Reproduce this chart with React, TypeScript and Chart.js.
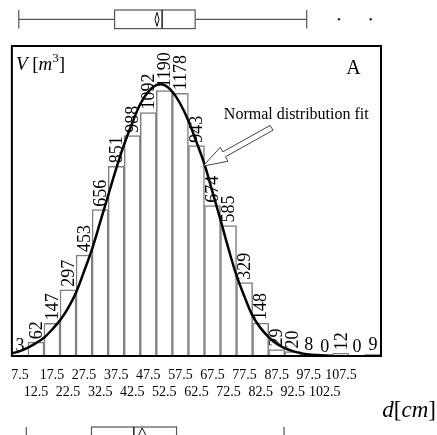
import { useEffect, useRef } from 'react';
import { Chart, registerables } from 'chart.js';

Chart.register(...registerables);

// Histogram: bin centres (cm) and stem volumes (m³)
const BIN_CENTERS = [7.5, 12.5, 17.5, 22.5, 27.5, 32.5, 37.5, 42.5, 47.5, 52.5, 57.5, 62.5, 67.5, 72.5, 77.5, 82.5, 87.5, 92.5, 97.5, 102.5, 107.5, 112.5, 117.5];
const VOLUMES = [3, 62, 147, 297, 453, 656, 851, 988, 1092, 1190, 1178, 943, 674, 585, 329, 148, 29, 20, 8, 0, 12, 0, 9];

// Axis tick labels
const TICK_VALUES = [7.5, 12.5, 17.5, 22.5, 27.5, 32.5, 37.5, 42.5, 47.5, 52.5, 57.5, 62.5, 67.5, 72.5, 77.5, 82.5, 87.5, 92.5, 97.5, 102.5, 107.5];

// Normal distribution fit curve
const FIT_X = [5, 7.5, 10, 12.5, 15, 17.5, 20, 22.5, 25, 27.5, 30, 32.5, 35, 37.5, 40, 42.5, 45, 47.5, 50, 52.5, 55, 57.5, 60, 62.5, 65, 67.5, 70, 72.5, 75, 77.5, 80, 82.5, 85, 87.5, 90, 92.5, 95, 97.5, 100, 102.5, 105];
const FIT_Y = [12, 22, 38, 58, 82, 118, 160, 215, 285, 380, 480, 600, 720, 840, 950, 1045, 1130, 1185, 1215, 1215, 1185, 1130, 1055, 960, 860, 735, 610, 480, 360, 265, 180, 125, 85, 55, 35, 22, 13, 7, 4, 2, 1];

// Box plots: [low whisker, Q1, median, Q3, high whisker]
const BOX_TOP = [7.15, 37.0, 51.8, 62.1, 96.85];
const BOX_TOP_MEAN = 50.2;
const BOX_TOP_OUTLIERS = [106.9, 116.8];
const BOX_BOTTOM = [9.5, 29.8, 43.0, 56.3, 89.8];
const BOX_BOTTOM_MEAN = 45.6;

// Annotation anchors (data coordinates)
const ARROW_TIP = [64.6, 852];
const ARROW_TAIL = [85.9, 1023];
const FIT_LABEL = 'Normal distribution fit';
const FIT_LABEL_POS = [93.6, 1081];
const PANEL_LABEL = 'A';
const PANEL_LABEL_POS = [111.4, 1288];

const SERIF = '"Liberation Serif", "Times New Roman", serif';

function drawBox(ctx: CanvasRenderingContext2D, xs: any, vals: number[], yc: number, hh: number, mean: number, mhw: number, mhh: number, outliers: number[]) {
  const [lo, q1, med, q3, hi] = vals.map((v) => xs.getPixelForValue(v));
  ctx.save();
  ctx.strokeStyle = '#555';
  ctx.lineWidth = 1.2;
  ctx.beginPath();
  ctx.moveTo(lo, yc); ctx.lineTo(q1, yc);
  ctx.moveTo(q3, yc); ctx.lineTo(hi, yc);
  ctx.moveTo(lo, yc - hh); ctx.lineTo(lo, yc + hh);
  ctx.moveTo(hi, yc - hh); ctx.lineTo(hi, yc + hh);
  ctx.stroke();
  ctx.strokeRect(q1, yc - hh, q3 - q1, 2 * hh);
  ctx.strokeStyle = '#111';
  ctx.lineWidth = 1.4;
  ctx.beginPath();
  ctx.moveTo(med, yc - hh); ctx.lineTo(med, yc + hh);
  ctx.stroke();
  const mx = xs.getPixelForValue(mean);
  ctx.lineWidth = 1;
  ctx.beginPath();
  ctx.moveTo(mx, yc - mhh); ctx.lineTo(mx + mhw, yc); ctx.lineTo(mx, yc + mhh); ctx.lineTo(mx - mhw, yc); ctx.closePath();
  ctx.stroke();
  ctx.fillStyle = '#222';
  outliers.forEach((o) => {
    ctx.beginPath();
    ctx.arc(xs.getPixelForValue(o), yc, 1.2, 0, Math.PI * 2);
    ctx.fill();
  });
  ctx.restore();
}

function drawArrow(ctx: CanvasRenderingContext2D, tx: number, ty: number, sx: number, sy: number) {
  const dx = tx - sx, dy = ty - sy;
  const len = Math.hypot(dx, dy);
  const ux = dx / len, uy = dy / len;
  const nx = -uy, ny = ux;
  const headLen = 24, headHW = 8, shaftHW = 2.8;
  const bx = tx - ux * headLen, by = ty - uy * headLen;
  ctx.save();
  ctx.beginPath();
  ctx.moveTo(sx + nx * shaftHW, sy + ny * shaftHW);
  ctx.lineTo(bx + nx * shaftHW, by + ny * shaftHW);
  ctx.lineTo(bx + nx * headHW, by + ny * headHW);
  ctx.lineTo(tx, ty);
  ctx.lineTo(bx - nx * headHW, by - ny * headHW);
  ctx.lineTo(bx - nx * shaftHW, by - ny * shaftHW);
  ctx.lineTo(sx - nx * shaftHW, sy - ny * shaftHW);
  ctx.closePath();
  ctx.fillStyle = '#fff';
  ctx.fill();
  ctx.strokeStyle = '#444';
  ctx.lineWidth = 1;
  ctx.stroke();
  ctx.restore();
}

function drawParts(ctx: CanvasRenderingContext2D, parts: { t: string; f: string; dy?: number }[], x: number, y: number, align: 'left' | 'right') {
  let total = 0;
  parts.forEach((p) => { ctx.font = p.f; total += ctx.measureText(p.t).width; });
  let cx = align === 'left' ? x : x - total;
  ctx.textAlign = 'left';
  ctx.textBaseline = 'alphabetic';
  parts.forEach((p) => {
    ctx.font = p.f;
    ctx.fillText(p.t, cx, y + (p.dy || 0));
    cx += ctx.measureText(p.t).width;
  });
}

const overlay = {
  id: 'overlay',
  afterDatasetsDraw(chart: any) {
    const { ctx, chartArea: ca, scales } = chart;
    const xs = scales.x, ys = scales.y;
    const meta = chart.getDatasetMeta(0);
    ctx.save();
    ctx.fillStyle = '#000';
    ctx.font = `18px ${SERIF}`;
    meta.data.forEach((bar: any, i: number) => {
      const label = String(VOLUMES[i]);
      if (label.length > 1) {
        ctx.save();
        ctx.translate(bar.x + 1, bar.y - 3);
        ctx.rotate(-Math.PI / 2);
        ctx.textAlign = 'left';
        ctx.textBaseline = 'middle';
        ctx.fillText(label, 0, 0);
        ctx.restore();
      } else {
        ctx.textAlign = 'center';
        ctx.textBaseline = 'alphabetic';
        ctx.fillText(label, bar.x, bar.y - 4);
      }
    });
    ctx.restore();

    // arrow + annotation
    drawArrow(ctx, xs.getPixelForValue(ARROW_TIP[0]), ys.getPixelForValue(ARROW_TIP[1]), xs.getPixelForValue(ARROW_TAIL[0]), ys.getPixelForValue(ARROW_TAIL[1]));
    ctx.save();
    ctx.fillStyle = '#000';
    ctx.font = `16px ${SERIF}`;
    ctx.textAlign = 'center';
    ctx.textBaseline = 'middle';
    ctx.fillText(FIT_LABEL, xs.getPixelForValue(FIT_LABEL_POS[0]), ys.getPixelForValue(FIT_LABEL_POS[1]));
    ctx.font = `20px ${SERIF}`;
    ctx.fillText(PANEL_LABEL, xs.getPixelForValue(PANEL_LABEL_POS[0]), ys.getPixelForValue(PANEL_LABEL_POS[1]));

    // V [m³]
    drawParts(ctx, [
      { t: 'V', f: `italic 19px ${SERIF}` },
      { t: ' [', f: `19px ${SERIF}` },
      { t: 'm', f: `italic 19px ${SERIF}` },
      { t: '3', f: `13px ${SERIF}`, dy: -8 },
      { t: ']', f: `19px ${SERIF}` },
    ], ca.left + 4, ca.top + 24, 'left');

    // d[cm]
    drawParts(ctx, [
      { t: 'd', f: `italic 23px ${SERIF}` },
      { t: '[', f: `23px ${SERIF}` },
      { t: 'cm', f: `italic 23px ${SERIF}` },
      { t: ']', f: `23px ${SERIF}` },
    ], 436, 417, 'right');
    ctx.restore();

    // frame
    ctx.save();
    ctx.strokeStyle = '#000';
    ctx.lineWidth = 2;
    ctx.strokeRect(ca.left, ca.top, ca.right - ca.left, ca.bottom - ca.top);
    ctx.restore();

    // box plots
    drawBox(ctx, xs, BOX_TOP, 19.3, 9.3, BOX_TOP_MEAN, 2, 7, BOX_TOP_OUTLIERS);
    drawBox(ctx, xs, BOX_BOTTOM, 440, 13, BOX_BOTTOM_MEAN, 6, 12, []);
  },
};

export default function App() {
  const ref = useRef<HTMLCanvasElement | null>(null);
  useEffect(() => {
    document.body.style.margin = '0';
    const canvas = ref.current;
    if (!canvas) return;
    const chart = new Chart(canvas, {
      type: 'bar',
      data: {
        datasets: [
          {
            type: 'bar',
            data: BIN_CENTERS.map((c, i) => ({ x: c, y: VOLUMES[i] })),
            backgroundColor: '#ffffff',
            borderColor: '#808080',
            borderWidth: 1.5,
            barPercentage: 1,
            categoryPercentage: 1,
            order: 2,
          } as any,
          {
            type: 'line',
            data: FIT_X.map((c, i) => ({ x: c, y: FIT_Y[i] })),
            borderColor: '#000',
            borderWidth: 2.5,
            pointRadius: 0,
            tension: 0.35,
            fill: false,
            order: 1,
          } as any,
        ],
      },
      options: {
        animation: false,
        responsive: true,
        maintainAspectRatio: false,
        layout: { padding: { left: 7, right: 56, top: 46, bottom: 0 } },
        plugins: { legend: { display: false }, tooltip: { enabled: false } },
        scales: {
          x: {
            type: 'linear',
            min: 5,
            max: 120,
            offset: false,
            grid: { display: false, drawTicks: false },
            border: { display: false },
            afterBuildTicks: (s: any) => { s.ticks = TICK_VALUES.map((v) => ({ value: v })); },
            afterFit: (s: any) => { s.height = 79; },
            ticks: {
              autoSkip: false,
              maxRotation: 0,
              minRotation: 0,
              padding: 11,
              color: '#000',
              font: { family: SERIF, size: 14, lineHeight: 1.2 },
              callback: (v: any, i: number) => {
                const label = Number(v).toFixed(1);
                return i % 2 === 0 ? [label, ''] : ['', label];
              },
            },
          },
          y: { display: false, min: 0, max: 1390 },
        },
      } as any,
      plugins: [overlay],
    });
    return () => chart.destroy();
  }, []);
  return (
    <div style={{ position: 'relative', width: 437, height: 435 }}>
      <canvas ref={ref} />
    </div>
  );
}
